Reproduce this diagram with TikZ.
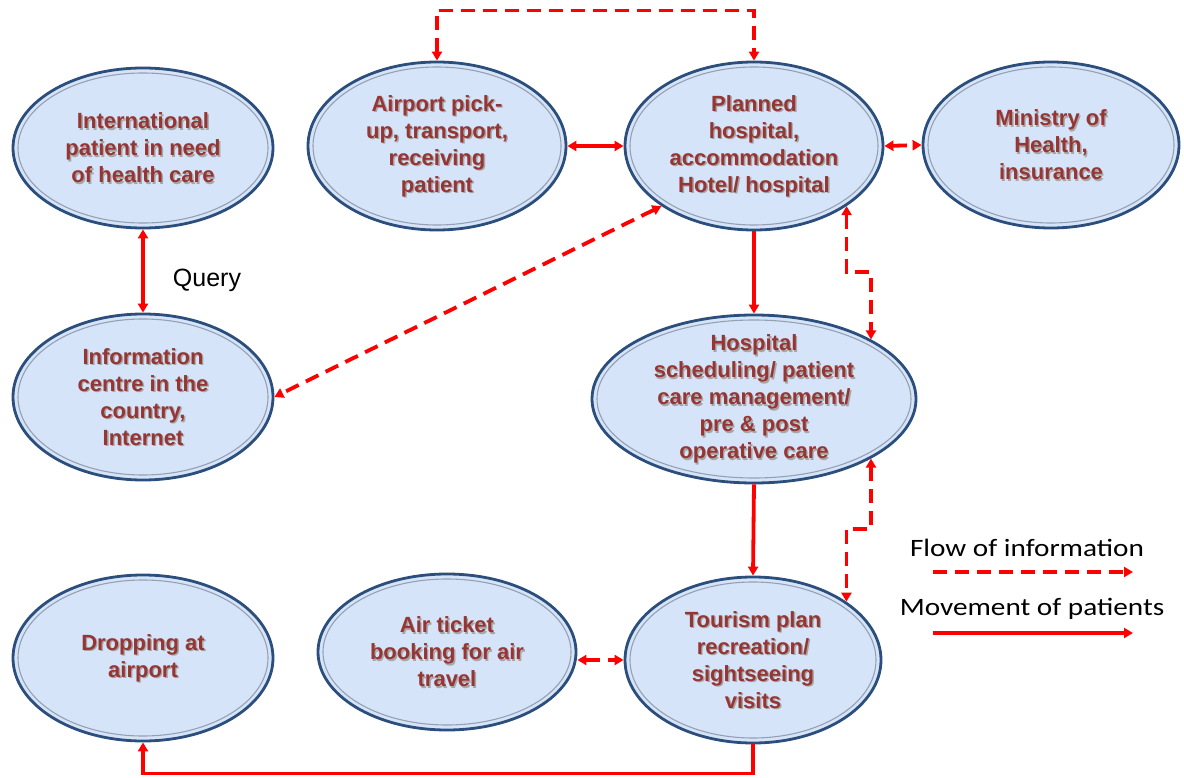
\documentclass[tikz,border=0pt]{standalone}
\usepackage{fontspec}
\usepackage{graphicx}
\setmainfont{Liberation Sans}
\newfontfamily\legendfont{Carlito}
\usetikzlibrary{arrows.meta,shapes.geometric}

\definecolor{bubblefill}{RGB}{213,228,248}
\definecolor{bubbleedge}{RGB}{44,78,124}
\definecolor{bubblering}{RGB}{150,160,178}
\definecolor{textred}{RGB}{150,54,52}
\definecolor{flowred}{RGB}{255,0,0}

\tikzset{
  bubble/.style={ellipse, draw=bubbleedge, line width=2.8pt, fill=bubblefill, inner sep=0pt},
  bubblering/.style={draw=bubblering, line width=1.1pt},
  btext/.style={font=\bfseries\fontsize{22}{27}\selectfont, text=textred, align=center, inner sep=0pt},
  bshadow/.style={btext, text=black!35, xshift=1.4pt, yshift=-1.4pt},
  tipstyle/.tip={Triangle[length=9pt,width=10pt]},
  patient/.style={draw=flowred, line width=3.8pt, arrows={-tipstyle}},
  patient2/.style={patient, arrows={tipstyle-tipstyle}},
  info/.style={draw=flowred, line width=3.8pt, dash pattern=on 14pt off 8pt, arrows={tipstyle-tipstyle}},
  legendtext/.style={font=\legendfont\fontsize{25}{30}\selectfont, text=black, inner sep=0pt},
}

% name, x, y, x radius, y radius, text
\newcommand\ovalstep[6]{%
  \node[bubble, minimum width={2*#4}, minimum height={2*#5}] (#1) at (#2,#3) {};
  \draw[bubblering] (#1.center) ellipse [x radius={#4-5}, y radius={#5-5}];
  \node[bshadow] at (#1.center) {#6};
  \node[btext] at (#1.center) {#6};
}

\begin{document}
\begin{tikzpicture}[x=1pt,y=-1pt]
\useasboundingbox (0,0) rectangle (1184,778);

% ellipses
\ovalstep{intl}{143}{148}{130}{80}{International\\patient in need\\of health care}
\ovalstep{air}{437}{146}{129}{84}{Airport pick-\\up, transport,\\receiving\\patient}
\ovalstep{plan}{754}{146}{129}{84}{Planned\\hospital,\\accommodation\\Hotel/ hospital}
\ovalstep{mini}{1051}{145}{128}{83}{Ministry of\\Health,\\insurance}
\ovalstep{info}{143}{397}{130}{83}{Information\\centre in the\\country,\\Internet}
\ovalstep{hosp}{754}{399}{162}{84}{Hospital\\scheduling/ patient\\care management/\\pre \& post\\operative care}
\ovalstep{drop}{143}{658}{130}{83}{Dropping at\\airport}
\ovalstep{tick}{447}{652}{129}{78}{Air ticket\\booking for air\\travel}
\ovalstep{tour}{753}{660}{128}{83}{Tourism plan\\recreation/\\sightseeing\\visits}

% movement of patients
\draw[patient2] (intl.south) -- (info.north);
\node[font=\fontsize{25}{30}\selectfont, inner sep=0pt] (query) at (207,280) {Query};
\draw[patient2] (air.east) -- (plan.west);
\draw[patient] (plan.south) -- (hosp.north);
\draw[patient] (hosp.south) -- (tour.north);
\draw[patient] (tour.south) -- ++(0,29) -| (drop.south);

% flow of information
\draw[info] (air.north) -- ++(0,-50) -| (plan.north);
\draw[info] (plan.east) -- (mini.west);
\draw[info] (plan.-147) -- (info.east);
\draw[info] (plan.-33) -- ++(0,66) -| (hosp.27);
\draw[info] (hosp.-27) -- ++(0,70) -| (tour.32);
\draw[info] (tick.east |- tour.west) -- (tour.west);

% legend
\node[legendtext] (lflow) at (1027,548) {\scalebox{1.17}[1]{Flow of information}};
\coordinate (lfa) at (933,572);
\coordinate (lfb) at (1133,572);
\draw[info, line width=3.2pt, arrows={-tipstyle}] (lfa) -- (lfb);
\node[legendtext] (lmove) at (1032,609) {\scalebox{1.17}[1]{Movement of patients}};
\coordinate (lma) at (933,633);
\coordinate (lmb) at (1133,633);
\draw[patient, line width=3.2pt] (lma) -- (lmb);
\end{tikzpicture}
\end{document}
